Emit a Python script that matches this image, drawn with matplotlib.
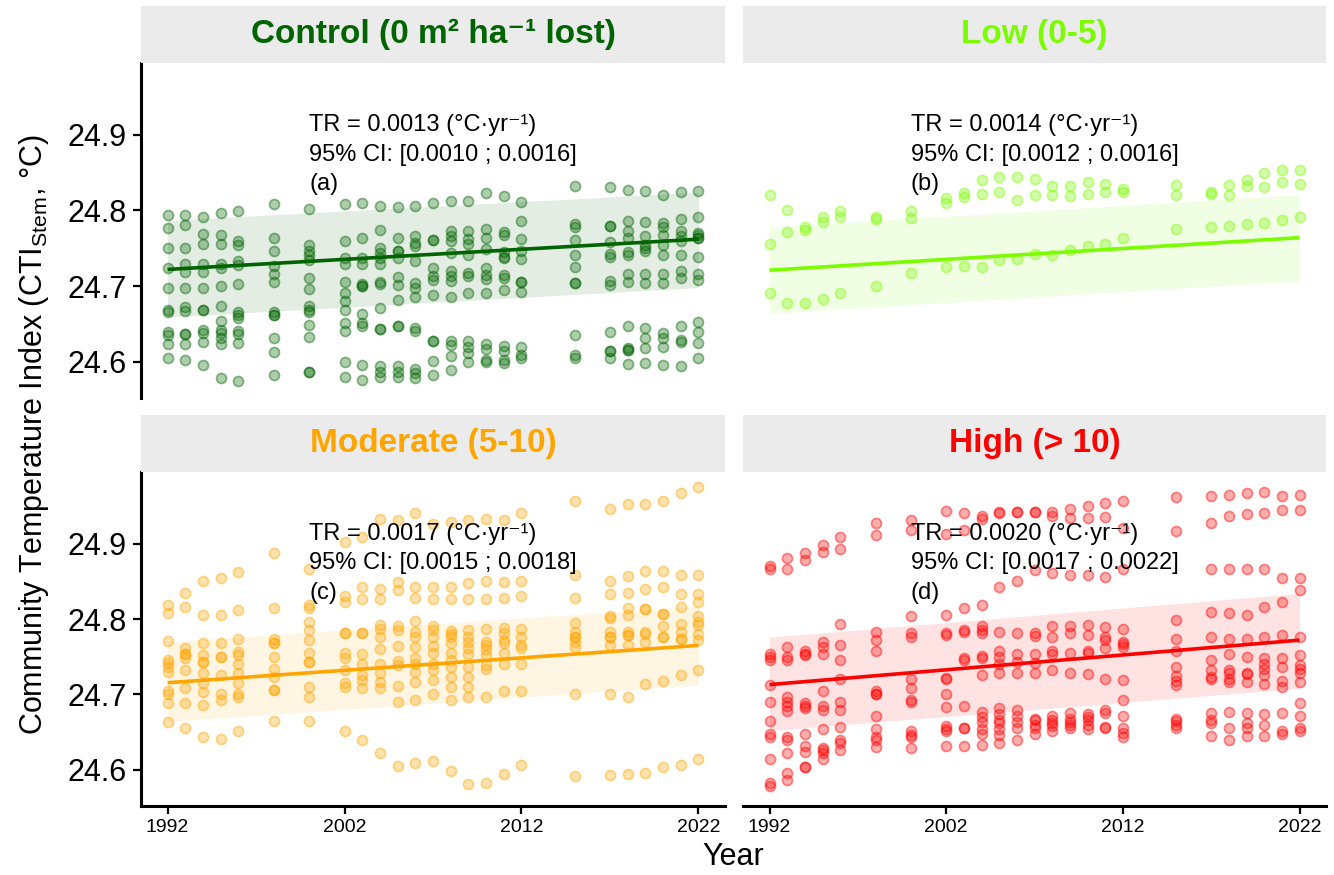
import numpy as np
import matplotlib
matplotlib.use("Agg")
import matplotlib.pyplot as plt
from matplotlib.patches import Rectangle

plt.rcParams['font.family'] = ['Liberation Sans', 'DejaVu Sans']
plt.rcParams['mathtext.fontset'] = 'custom'
plt.rcParams['mathtext.rm'] = 'Liberation Sans'
plt.rcParams['mathtext.it'] = 'Liberation Sans:italic'

# Survey years (shared by all four loss classes)
YEARS = [1992, 1993, 1994, 1995, 1996, 1998, 2000, 2002, 2003, 2004, 2005, 2006,
         2007, 2008, 2009, 2010, 2011, 2012, 2015, 2017, 2018, 2019, 2020, 2021, 2022]

# Plot-level CTI per year, one inner list per survey year
control_cti = [
    [24.794, 24.777, 24.750, 24.724, 24.697, 24.669, 24.666, 24.639, 24.635, 24.623, 24.605],
    [24.794, 24.781, 24.750, 24.729, 24.719, 24.697, 24.672, 24.667, 24.637, 24.637, 24.623, 24.602],
    [24.792, 24.769, 24.755, 24.729, 24.719, 24.697, 24.669, 24.669, 24.642, 24.638, 24.626, 24.596],
    [24.797, 24.767, 24.756, 24.729, 24.724, 24.700, 24.673, 24.654, 24.642, 24.638, 24.631, 24.623, 24.578],
    [24.799, 24.760, 24.754, 24.733, 24.728, 24.703, 24.666, 24.662, 24.658, 24.640, 24.636, 24.625, 24.575],
    [24.808, 24.764, 24.746, 24.727, 24.716, 24.705, 24.666, 24.662, 24.662, 24.631, 24.613, 24.583],
    [24.802, 24.754, 24.746, 24.741, 24.735, 24.711, 24.696, 24.673, 24.669, 24.666, 24.649, 24.633, 24.587, 24.587],
    [24.808, 24.760, 24.737, 24.729, 24.705, 24.691, 24.680, 24.669, 24.651, 24.640, 24.599, 24.580],
    [24.810, 24.763, 24.737, 24.729, 24.703, 24.700, 24.700, 24.663, 24.651, 24.647, 24.596, 24.576],
    [24.806, 24.774, 24.750, 24.744, 24.737, 24.729, 24.706, 24.703, 24.671, 24.643, 24.643, 24.594, 24.587, 24.580],
    [24.804, 24.763, 24.747, 24.747, 24.737, 24.712, 24.702, 24.682, 24.647, 24.647, 24.594, 24.587, 24.580],
    [24.806, 24.766, 24.757, 24.753, 24.733, 24.704, 24.697, 24.686, 24.645, 24.640, 24.591, 24.585, 24.579],
    [24.810, 24.761, 24.761, 24.724, 24.713, 24.708, 24.688, 24.627, 24.627, 24.601, 24.583],
    [24.813, 24.773, 24.766, 24.759, 24.744, 24.720, 24.713, 24.707, 24.685, 24.628, 24.622, 24.607, 24.589],
    [24.812, 24.773, 24.762, 24.756, 24.741, 24.717, 24.713, 24.691, 24.627, 24.620, 24.611, 24.599],
    [24.823, 24.775, 24.764, 24.749, 24.724, 24.714, 24.710, 24.691, 24.623, 24.617, 24.602, 24.599],
    [24.819, 24.772, 24.767, 24.745, 24.739, 24.737, 24.714, 24.711, 24.695, 24.621, 24.614, 24.602, 24.598],
    [24.811, 24.786, 24.762, 24.746, 24.736, 24.706, 24.705, 24.692, 24.620, 24.609, 24.605],
    [24.832, 24.782, 24.778, 24.761, 24.741, 24.725, 24.704, 24.704, 24.635, 24.609, 24.605],
    [24.831, 24.780, 24.780, 24.758, 24.742, 24.739, 24.707, 24.702, 24.639, 24.614, 24.614, 24.605],
    [24.827, 24.786, 24.773, 24.763, 24.745, 24.741, 24.716, 24.706, 24.647, 24.618, 24.616, 24.616, 24.597],
    [24.826, 24.785, 24.766, 24.754, 24.750, 24.747, 24.716, 24.704, 24.645, 24.631, 24.618, 24.598],
    [24.821, 24.784, 24.778, 24.768, 24.754, 24.741, 24.716, 24.704, 24.638, 24.631, 24.620, 24.596],
    [24.825, 24.789, 24.773, 24.766, 24.760, 24.741, 24.720, 24.711, 24.647, 24.629, 24.626, 24.594],
    [24.826, 24.791, 24.770, 24.767, 24.764, 24.764, 24.738, 24.716, 24.708, 24.652, 24.639, 24.625, 24.605],
]

low_cti = [
    [24.821, 24.756, 24.691], [24.801, 24.772, 24.677], [24.778, 24.774, 24.678],
    [24.791, 24.785, 24.683], [24.799, 24.791, 24.691], [24.791, 24.789, 24.700],
    [24.799, 24.790, 24.717], [24.817, 24.810, 24.725], [24.823, 24.818, 24.727],
    [24.840, 24.822, 24.725], [24.844, 24.824, 24.735], [24.844, 24.814, 24.736],
    [24.841, 24.820, 24.742], [24.833, 24.820, 24.741], [24.833, 24.819, 24.748],
    [24.838, 24.822, 24.753], [24.835, 24.824, 24.756], [24.829, 24.824, 24.763],
    [24.834, 24.821, 24.776], [24.825, 24.822, 24.778], [24.834, 24.821, 24.780],
    [24.840, 24.833, 24.782], [24.850, 24.831, 24.783], [24.854, 24.837, 24.787],
    [24.854, 24.835, 24.791],
]

moderate_cti = [
    [24.818, 24.808, 24.771, 24.746, 24.742, 24.737, 24.730, 24.704, 24.701, 24.688, 24.663],
    [24.834, 24.816, 24.761, 24.754, 24.754, 24.748, 24.732, 24.708, 24.688, 24.655],
    [24.851, 24.805, 24.768, 24.752, 24.743, 24.743, 24.728, 24.715, 24.703, 24.686, 24.644],
    [24.855, 24.805, 24.768, 24.750, 24.750, 24.726, 24.701, 24.693, 24.641],
    [24.862, 24.812, 24.774, 24.756, 24.752, 24.741, 24.728, 24.715, 24.701, 24.697, 24.652],
    [24.887, 24.815, 24.773, 24.768, 24.768, 24.750, 24.734, 24.723, 24.706, 24.706, 24.665],
    [24.867, 24.818, 24.814, 24.796, 24.785, 24.772, 24.755, 24.743, 24.743, 24.710, 24.697, 24.665],
    [24.902, 24.831, 24.823, 24.782, 24.782, 24.755, 24.748, 24.732, 24.715, 24.710, 24.652],
    [24.909, 24.843, 24.826, 24.782, 24.782, 24.754, 24.741, 24.726, 24.719, 24.708, 24.640],
    [24.932, 24.840, 24.827, 24.792, 24.787, 24.776, 24.760, 24.741, 24.729, 24.716, 24.708, 24.622],
    [24.931, 24.849, 24.838, 24.791, 24.785, 24.764, 24.744, 24.739, 24.711, 24.690, 24.605],
    [24.940, 24.843, 24.828, 24.797, 24.783, 24.776, 24.763, 24.748, 24.741, 24.730, 24.717, 24.692, 24.609],
    [24.926, 24.842, 24.826, 24.791, 24.785, 24.776, 24.764, 24.755, 24.741, 24.732, 24.719, 24.701, 24.612],
    [24.929, 24.843, 24.827, 24.784, 24.780, 24.776, 24.768, 24.755, 24.746, 24.736, 24.723, 24.710, 24.693, 24.598],
    [24.931, 24.848, 24.827, 24.786, 24.776, 24.770, 24.762, 24.754, 24.737, 24.723, 24.710, 24.697, 24.581],
    [24.932, 24.851, 24.826, 24.787, 24.770, 24.765, 24.760, 24.752, 24.739, 24.734, 24.696, 24.582],
    [24.931, 24.849, 24.828, 24.788, 24.781, 24.772, 24.768, 24.755, 24.740, 24.704, 24.595],
    [24.940, 24.850, 24.830, 24.787, 24.776, 24.765, 24.761, 24.740, 24.704, 24.607],
    [24.957, 24.859, 24.828, 24.795, 24.783, 24.776, 24.776, 24.770, 24.763, 24.700, 24.592],
    [24.946, 24.851, 24.833, 24.804, 24.801, 24.783, 24.776, 24.776, 24.765, 24.700, 24.593],
    [24.953, 24.857, 24.835, 24.814, 24.805, 24.783, 24.779, 24.779, 24.765, 24.696, 24.595],
    [24.953, 24.864, 24.840, 24.813, 24.813, 24.783, 24.780, 24.770, 24.714, 24.596],
    [24.956, 24.864, 24.843, 24.807, 24.807, 24.791, 24.776, 24.776, 24.718, 24.604],
    [24.967, 24.859, 24.833, 24.816, 24.794, 24.783, 24.773, 24.773, 24.726, 24.607],
    [24.975, 24.858, 24.833, 24.823, 24.804, 24.796, 24.792, 24.780, 24.772, 24.733, 24.615],
]

high_cti = [
    [24.870, 24.866, 24.753, 24.750, 24.746, 24.713, 24.690, 24.665, 24.648, 24.643, 24.615, 24.582, 24.579],
    [24.881, 24.866, 24.763, 24.750, 24.745, 24.697, 24.690, 24.685, 24.678, 24.644, 24.640, 24.622, 24.596, 24.586],
    [24.888, 24.878, 24.757, 24.754, 24.752, 24.688, 24.685, 24.682, 24.648, 24.631, 24.624, 24.604, 24.604],
    [24.898, 24.889, 24.770, 24.763, 24.754, 24.704, 24.684, 24.679, 24.654, 24.629, 24.626, 24.622, 24.615],
    [24.909, 24.893, 24.794, 24.765, 24.746, 24.721, 24.690, 24.679, 24.657, 24.640, 24.636, 24.626],
    [24.927, 24.912, 24.783, 24.772, 24.757, 24.704, 24.701, 24.701, 24.671, 24.654, 24.643, 24.640, 24.630],
    [24.931, 24.918, 24.804, 24.781, 24.776, 24.721, 24.708, 24.693, 24.690, 24.652, 24.646, 24.644, 24.629],
    [24.943, 24.913, 24.805, 24.782, 24.779, 24.722, 24.720, 24.701, 24.683, 24.658, 24.654, 24.652, 24.632],
    [24.940, 24.918, 24.814, 24.785, 24.783, 24.748, 24.745, 24.685, 24.656, 24.655, 24.632],
    [24.936, 24.933, 24.818, 24.791, 24.786, 24.782, 24.751, 24.748, 24.726, 24.677, 24.670, 24.664, 24.654, 24.648, 24.633],
    [24.942, 24.941, 24.843, 24.783, 24.757, 24.750, 24.741, 24.728, 24.682, 24.674, 24.666, 24.662, 24.654, 24.646, 24.635],
    [24.942, 24.942, 24.851, 24.782, 24.754, 24.743, 24.729, 24.679, 24.671, 24.664, 24.655, 24.639],
    [24.942, 24.942, 24.865, 24.781, 24.777, 24.754, 24.742, 24.729, 24.668, 24.666, 24.660, 24.656, 24.648],
    [24.942, 24.937, 24.861, 24.791, 24.776, 24.757, 24.754, 24.733, 24.671, 24.666, 24.662, 24.658, 24.651],
    [24.946, 24.934, 24.858, 24.791, 24.782, 24.755, 24.728, 24.675, 24.668, 24.664, 24.660, 24.655],
    [24.950, 24.934, 24.858, 24.792, 24.779, 24.757, 24.755, 24.727, 24.674, 24.670, 24.666, 24.659, 24.654],
    [24.954, 24.935, 24.856, 24.790, 24.776, 24.772, 24.761, 24.720, 24.679, 24.676, 24.657, 24.656],
    [24.956, 24.921, 24.867, 24.787, 24.770, 24.767, 24.763, 24.719, 24.693, 24.671, 24.655, 24.649, 24.644],
    [24.962, 24.917, 24.799, 24.773, 24.757, 24.737, 24.724, 24.718, 24.712, 24.668, 24.665, 24.659, 24.656],
    [24.963, 24.927, 24.866, 24.809, 24.776, 24.746, 24.732, 24.723, 24.720, 24.675, 24.666, 24.662, 24.645],
    [24.965, 24.936, 24.867, 24.808, 24.773, 24.753, 24.733, 24.728, 24.721, 24.716, 24.677, 24.656, 24.639],
    [24.967, 24.939, 24.866, 24.805, 24.773, 24.749, 24.729, 24.727, 24.716, 24.676, 24.662, 24.656, 24.645],
    [24.968, 24.941, 24.867, 24.816, 24.776, 24.748, 24.741, 24.734, 24.726, 24.714, 24.674, 24.660, 24.645],
    [24.963, 24.945, 24.854, 24.823, 24.779, 24.748, 24.737, 24.718, 24.710, 24.676, 24.652, 24.648],
    [24.965, 24.944, 24.855, 24.838, 24.776, 24.752, 24.739, 24.734, 24.729, 24.717, 24.688, 24.671, 24.656, 24.652],
]

# Linear trend (fitted value, lower, upper) at 1992 and 2022
FIT_YEARS = [1992, 2022]
control_fit = {'fit': [24.722, 24.762], 'lo': [24.659, 24.698], 'hi': [24.787, 24.824]}
low_fit = {'fit': [24.721, 24.764], 'lo': [24.664, 24.707], 'hi': [24.778, 24.821]}
moderate_fit = {'fit': [24.7155, 24.765], 'lo': [24.664, 24.7125], 'hi': [24.770, 24.817]}
high_fit = {'fit': [24.713, 24.772], 'lo': [24.652, 24.708], 'hi': [24.776, 24.834]}

PANEL_TITLES = ['Control (0 m² ha⁻¹ lost)', 'Low (0-5)', 'Moderate (5-10)', 'High (> 10)']
PANEL_COLORS = ['#006400', '#7CFC00', '#FFA500', '#FF0000']
TR_LABELS = ['TR = 0.0013 (°C·yr⁻¹)', 'TR = 0.0014 (°C·yr⁻¹)',
             'TR = 0.0017 (°C·yr⁻¹)', 'TR = 0.0020 (°C·yr⁻¹)']
CI_LABELS = ['95% CI: [0.0010 ; 0.0016]', '95% CI: [0.0012 ; 0.0016]',
             '95% CI: [0.0015 ; 0.0018]', '95% CI: [0.0017 ; 0.0022]']
PANEL_TAGS = ['(a)', '(b)', '(c)', '(d)']

W, H = 1334, 875


def px_box(x0, y0, x1, y1):
    """Pixel box (top-left origin) -> figure fraction rect."""
    return [x0 / W, 1 - y1 / H, (x1 - x0) / W, (y1 - y0) / H]


def draw_panel(ax, cti, fit, color, tr, ci, tag):
    xs = np.concatenate([[yr] * len(v) for yr, v in zip(YEARS, cti)])
    ys = np.concatenate([np.asarray(v) for v in cti])
    ax.scatter(xs, ys, s=52, facecolor=matplotlib.colors.to_rgba(color, 0.32),
               edgecolor=matplotlib.colors.to_rgba(color, 0.45), linewidth=1.2, zorder=2)
    ax.fill_between(FIT_YEARS, fit['lo'], fit['hi'], color=color, alpha=0.11,
                    linewidth=0, zorder=1)
    ax.plot(FIT_YEARS, fit['fit'], color=color, linewidth=2.6, zorder=3,
            solid_capstyle='butt')
    ax.text(2000, 24.913, tr, fontsize=17, va='center', ha='left', zorder=4)
    ax.text(2000, 24.874, ci, fontsize=17, va='center', ha='left', zorder=4)
    ax.text(2000, 24.835, tag, fontsize=17, va='center', ha='left', zorder=4)

    ax.set_xlim(1990.5, 2023.5)
    ax.set_ylim(24.552, 24.995)
    ax.set_xticks([1992, 2002, 2012, 2022])
    ax.set_yticks([24.6, 24.7, 24.8, 24.9])
    ax.set_yticklabels(['24.6', '24.7', '24.8', '24.9'])
    ax.tick_params(axis='x', labelsize=14, length=5.5, width=1.6, pad=4)
    ax.tick_params(axis='y', labelsize=22, length=5.5, width=1.6, pad=5)
    for side in ['top', 'right']:
        ax.spines[side].set_visible(False)
    for side in ['left', 'bottom']:
        ax.spines[side].set_linewidth(2.2)


fig = plt.figure(figsize=(W / 100, H / 100), dpi=100)

# panel boxes in pixels: (x0, y0, x1, y1) for axes and strip
cols = [(141, 725), (743, 1326)]
rows = [((6, 63), (63, 398)), ((415, 472), (472, 806))]

all_cti = [control_cti, low_cti, moderate_cti, high_cti]
all_fit = [control_fit, low_fit, moderate_fit, high_fit]

for i in range(4):
    r, c = divmod(i, 2)
    (sy0, sy1), (ay0, ay1) = rows[r]
    x0, x1 = cols[c]

    ax = fig.add_axes(px_box(x0, ay0, x1, ay1))
    draw_panel(ax, all_cti[i], all_fit[i], PANEL_COLORS[i],
               TR_LABELS[i], CI_LABELS[i], PANEL_TAGS[i])

    # axes only on the outer panels
    if r == 0:
        ax.spines['bottom'].set_visible(False)
        ax.tick_params(axis='x', bottom=False, labelbottom=False)
    if c == 1:
        ax.spines['left'].set_visible(False)
        ax.tick_params(axis='y', left=False, labelleft=False)

    # facet strip
    sax = fig.add_axes(px_box(x0, sy0, x1, sy1))
    sax.add_patch(Rectangle((0, 0), 1, 1, facecolor='#EBEBEB', edgecolor='none'))
    sax.set_xlim(0, 1)
    sax.set_ylim(0, 1)
    sax.axis('off')
    sax.text(0.5, 0.5, PANEL_TITLES[i], color=PANEL_COLORS[i], fontsize=24,
             fontweight='bold', ha='center', va='center')

fig.text(34 / W, 1 - 435 / H, r'Community Temperature Index (CTI$_{\mathrm{Stem}}$, °C)',
         rotation=90, fontsize=22, ha='center', va='center')
fig.text(733 / W, 1 - 857 / H, 'Year', fontsize=22, ha='center', va='center')

fig.savefig('out.png', dpi=100)
